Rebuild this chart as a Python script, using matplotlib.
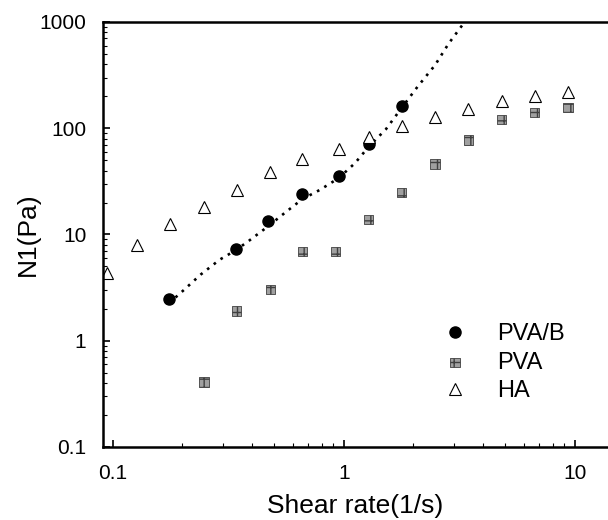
import matplotlib
matplotlib.use('Agg')
import matplotlib.pyplot as plt

plt.rcParams['font.family'] = ['Liberation Sans', 'DejaVu Sans']

# PVA/B (filled circles)
pvab_rate = [0.175, 0.34, 0.471, 0.66, 0.95, 1.28, 1.78]
pvab_n1 = [2.48, 7.35, 13.3, 24.2, 35.7, 71, 162]

# fitted curve through PVA/B (dotted)
fit_rate = [0.175, 0.194, 0.24, 0.29, 0.34, 0.39, 0.471, 0.555, 0.66, 0.787, 0.95,
            1.117, 1.28, 1.52, 1.78, 2.08, 2.48, 2.84, 3.33]
fit_n1 = [2.27, 2.75, 4.2, 5.8, 7.1, 8.8, 12, 16, 21.5, 26.3, 34,
          47, 67, 98, 156, 245, 393, 627, 1000]

# PVA (grey squares)
pva_rate = [0.248, 0.343, 0.48, 0.66, 0.92, 1.28, 1.78, 2.48, 3.45, 4.81, 6.70, 9.33]
pva_n1 = [0.41, 1.90, 3.04, 6.9, 6.9, 13.8, 24.9, 46, 77.6, 121, 140, 156]

# HA (open triangles)
ha_rate = [0.094, 0.127, 0.177, 0.248, 0.343, 0.48, 0.66, 0.95, 1.28, 1.78,
           2.48, 3.45, 4.81, 6.70, 9.33]
ha_n1 = [4.3, 7.9, 12.6, 18.2, 26, 39, 51, 64, 83.6, 104, 127, 153, 180, 202, 217]

fig = plt.figure(figsize=(6.08, 5.2), dpi=100)
ax = fig.add_axes([0.1694, 0.1404, 0.8306, 0.8173])

ax.plot(fit_rate, fit_n1, color='black', linestyle=(0, (1, 2.2)), linewidth=1.9)
h1, = ax.plot(pvab_rate, pvab_n1, 'o', color='black', markersize=8, linestyle='none', label='PVA/B')
h2 = ax.scatter(pva_rate, pva_n1, marker='s', s=45, facecolor='#a0a0a0', edgecolor='#404040',
                hatch='++', linewidth=0.6, label='PVA')
h3, = ax.plot(ha_rate, ha_n1, '^', markerfacecolor='white', markeredgecolor='black',
              markeredgewidth=0.8, markersize=8, linestyle='none', label='HA')

ax.set_xscale('log')
ax.set_yscale('log')
ax.set_xlim(0.0906, 13.9)
ax.set_ylim(0.1, 1000)
ax.set_xticks([0.1, 1, 10])
ax.set_xticklabels(['0.1', '1', '10'])
ax.set_yticks([0.1, 1, 10, 100, 1000])
ax.set_yticklabels(['0.1', '1', '10', '100', '1000'])

for side in ['left', 'bottom', 'top']:
    ax.spines[side].set_linewidth(1.8)
ax.spines['right'].set_visible(False)

ax.tick_params(which='major', direction='in', length=5, width=1.2, labelsize=15)
ax.tick_params(axis='x', which='major', pad=12)
ax.tick_params(axis='y', which='major', pad=12)
ax.tick_params(which='minor', direction='in', length=3, width=0.8)
ax.tick_params(top=False, right=False)

ax.set_xlabel('Shear rate(1/s)', fontsize=19, labelpad=8)
ax.set_ylabel('N1(Pa)', fontsize=19, labelpad=0)

ax.legend(handles=[h1, h2, h3], loc='upper left', bbox_to_anchor=(0.65, 0.319),
          frameon=False, fontsize=17, handletextpad=1.3, labelspacing=0.28,
          handlelength=1.0, borderpad=0)

fig.savefig('out.png', dpi=100)
